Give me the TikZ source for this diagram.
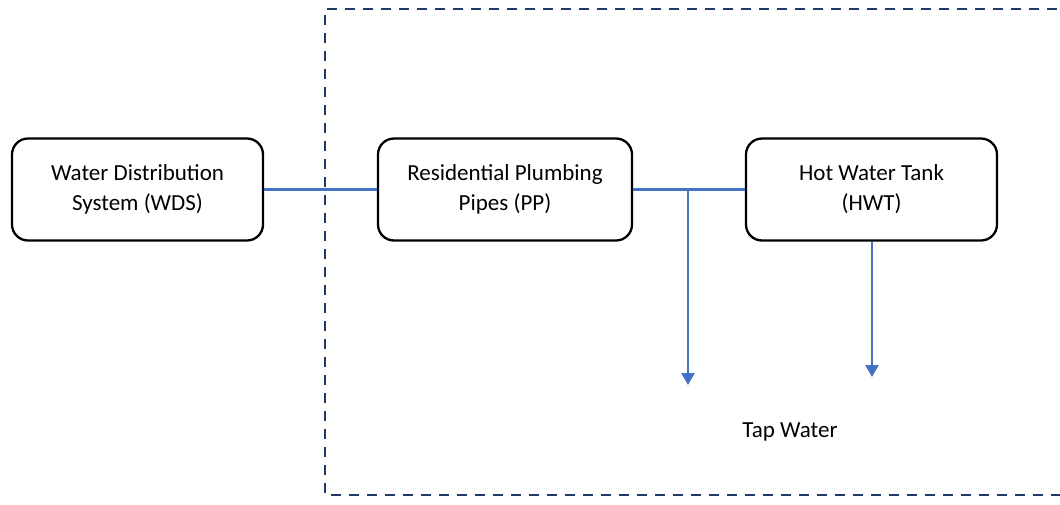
\documentclass[tikz,border=0pt]{standalone}
\usepackage{fontspec}
\setmainfont{Carlito}
\usetikzlibrary{arrows.meta}
\definecolor{pipeblue}{HTML}{4472C4}
\definecolor{navy}{HTML}{203864}
\tikzset{
  sysbox/.style={draw=black, line width=2.3pt, rounded corners=16pt, fill=white,
    minimum width=251pt, minimum height=102pt, align=center, inner sep=0pt,
    font=\fontsize{23}{30}\selectfont},
  pipe/.style={draw=pipeblue, line width=2.4pt},
  flow/.style={pipe, -{Triangle[length=12pt,width=13pt]}},
  boundary/.style={draw=navy, line width=2.5pt, dash pattern=on 10pt off 8pt},
  lbl/.style={font=\fontsize{23}{30}\selectfont, inner sep=0pt}
}
\begin{document}
\begin{tikzpicture}[x=1pt,y=-1pt]
\useasboundingbox (0,0) rectangle (1060,504);
\clip (0,0) rectangle (1060,504);
\draw[boundary] (1075,9) -- (325,9) -- (325,495) -- (1075,495);
\node[sysbox] (wds) at (137.5,189.5) {\strut Water Distribution\\\strut System (WDS)};
\node[sysbox, minimum width=254pt] (pp) at (505,189.5) {\strut Residential Plumbing\\\strut Pipes (PP)};
\node[sysbox] (hwt) at (871.5,189.5) {\strut Hot Water Tank\\\strut (HWT)};
\coordinate (br) at (688,189.5);
\coordinate (tap1) at (688,385);
\coordinate (tap2) at (872,377);
\draw[pipe] (wds.east) -- (pp.west);
\draw[pipe] (pp.east) -- (hwt.west);
\draw[flow] (br) -- (tap1);
\draw[flow] (hwt.south -| tap2) -- (tap2);
\node[lbl] (tap) at (790,432) {Tap Water};
\end{tikzpicture}
\end{document}
